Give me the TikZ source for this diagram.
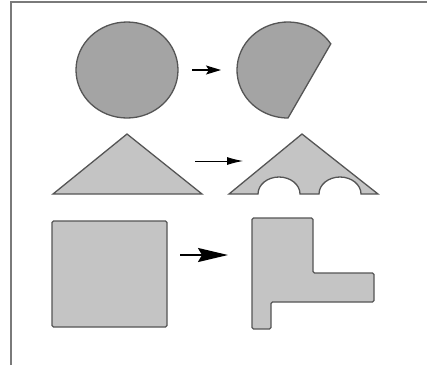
\documentclass[tikz,border=0pt]{standalone}
\usetikzlibrary{arrows.meta}
\definecolor{darkfill}{HTML}{A4A4A4}
\definecolor{lightfill}{HTML}{C4C4C4}
\definecolor{edge}{HTML}{555555}
\definecolor{frame}{HTML}{7A7A7A}
\tikzset{
  shapeA/.style={draw=edge, fill=darkfill, line width=1.3pt},
  shapeB/.style={draw=edge, fill=lightfill, line width=1.3pt},
  framestyle/.style={draw=frame, line width=1.3pt},
  arrowA/.style={line width=1.2pt, -{Stealth[length=15pt,width=9pt,inset=3pt]}},
  arrowB/.style={line width=0.9pt, -{Latex[length=16pt,width=8pt]}},
  arrowC/.style={line width=2pt, -{Stealth[length=30pt,width=14pt,inset=4pt]}}
}
\begin{document}
\begin{tikzpicture}[x=1pt,y=-1pt]
\useasboundingbox (0,0) rectangle (427,365);
% frame
\coordinate (fbl) at (11,365);
\coordinate (ftl) at (11,2);
\coordinate (ftr) at (427,2);
\draw[framestyle] (fbl) -- (ftl) -- (ftr);
% row 1
\draw[shapeA] (127,70) ellipse [x radius=51, y radius=48];
\draw[shapeA] (288,70) ++(-33:51 and 48) arc[start angle=-33, end angle=-270, x radius=51, y radius=48] -- cycle;
\coordinate (a1s) at (192,70);
\coordinate (a1e) at (221,70);
\draw[arrowA, draw=black] (a1s) -- (a1e);
% row 2
\draw[shapeB] (53,194) -- (127,134) -- (202,194) -- cycle;
\draw[shapeB] (229,194) -- (302,134) -- (378,194) -- (361,194)
  arc[start angle=0, end angle=-180, x radius=21, y radius=17]
  -- (300,194)
  arc[start angle=0, end angle=-180, x radius=21, y radius=17]
  -- cycle;
\coordinate (a2s) at (195,161);
\coordinate (a2e) at (243,161);
\draw[arrowB, draw=black] (a2s) -- (a2e);
% row 3
\draw[shapeB, rounded corners=1.5pt] (52,221) rectangle (167,327);
\draw[shapeB, rounded corners=1.5pt] (252,218) -- (313,218) -- (313,273) -- (374,273) -- (374,302) -- (271,302) -- (271,329) -- (252,329) -- cycle;
\coordinate (a3s) at (180,255);
\coordinate (a3e) at (228,255);
\draw[arrowC, draw=black] (a3s) -- (a3e);
\end{tikzpicture}
\end{document}
